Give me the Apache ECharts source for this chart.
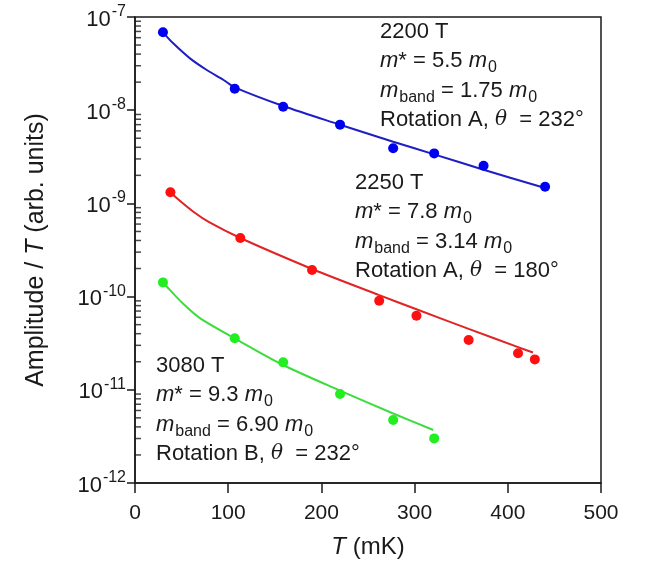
<!DOCTYPE html>
<html>
<head>
<meta charset="utf-8">
<script src="https://cdn.jsdelivr.net/npm/echarts@6/dist/echarts.min.js"></script>
<style>
  html, body { margin: 0; padding: 0; background: #fff; }
  #chart { width: 648px; height: 569px; }
</style>
</head>
<body>
<div id="chart"></div>
<script>
// measured points (T in mK, amplitude / T in arb. units)
var blueT = [30, 107, 159, 220, 277, 321, 374, 440]
var blueAmp = [6.85e-8, 1.70e-8, 1.09e-8, 7.0e-9, 3.9e-9, 3.44e-9, 2.54e-9, 1.51e-9]
var redT = [38, 113, 190, 262, 302, 358, 411, 429]
var redAmp = [1.32e-9, 4.26e-10, 1.93e-10, 9.04e-11, 6.24e-11, 3.42e-11, 2.47e-11, 2.12e-11]
var greenT = [30, 107, 159, 220, 277, 321]
var greenAmp = [1.42e-10, 3.57e-11, 1.97e-11, 9.0e-12, 4.74e-12, 3.01e-12]

// fitted curves
var blueFitT = [30, 41, 59, 77, 95, 107, 159, 220, 277, 321, 374, 440]
var blueFit = [6.85e-8, 5.22e-8, 3.6e-8, 2.7e-8, 2.11e-8, 1.76e-8, 1.11e-8, 6.99e-9, 4.59e-9, 3.36e-9, 2.30e-9, 1.46e-9]
var redFitT = [38, 45, 63, 80, 113, 190, 262, 302, 358, 411, 427]
var redFit = [1.326e-9, 1.134e-9, 8.08e-10, 6.24e-10, 4.25e-10, 1.98e-10, 1.038e-10, 7.31e-11, 4.5e-11, 2.87e-11, 2.51e-11]
var greenFitT = [30, 34, 52, 70, 107, 159, 220, 277, 320]
var greenFit = [1.417e-10, 1.283e-10, 8.33e-11, 5.85e-11, 3.57e-11, 1.845e-11, 9.8e-12, 5.57e-12, 3.7e-12]

// axis decoration
var xTicks = [0, 100, 200, 300, 400, 500]
var yDecades = [-12, -11, -10, -9, -8, -7]
var minorMantissa = [2, 3, 4, 5, 6, 7, 8, 9]

var FONT = 'Liberation Sans, Arial, sans-serif'
var INK = '#1a1a1a'

function pairs (xs, ys) {
  return xs.map(function (x, i) { return [x, ys[i]] })
}

var minorTicks = []
yDecades.slice(0, -1).forEach(function (d) {
  minorMantissa.forEach(function (m) { minorTicks.push([xTicks[0], m * Math.pow(10, d)]) })
})

var chart = echarts.init(document.getElementById('chart'))

var txt = {
  fontFamily: FONT,
  fontSize: 22,
  fill: INK,
  lineHeight: 29.5,
  rich: {
    i: { fontFamily: FONT, fontSize: 22, fontStyle: 'italic', lineHeight: 29.5 },
    s: { fontFamily: FONT, fontSize: 16, lineHeight: 16, verticalAlign: 'bottom', padding: [0, 0, 0, 1] },
    th: { fontFamily: 'DejaVu Serif, serif', fontSize: 20, fontStyle: 'italic', lineHeight: 29.5 }
  }
}

function block (x, y, lines) {
  return {
    type: 'text',
    left: x,
    top: y,
    silent: true,
    style: Object.assign({}, txt, { text: lines.join('\n') })
  }
}

var groups = [
  { c: '#0000f0', lc: '#1e1ec4', t: blueT, a: blueAmp, ft: blueFitT, f: blueFit },
  { c: '#ff1010', lc: '#e02424', t: redT, a: redAmp, ft: redFitT, f: redFit },
  { c: '#22ee22', lc: '#3ddc3d', t: greenT, a: greenAmp, ft: greenFitT, f: greenFit }
]

// log minor ticks on the left axis, pointing into the plot (first series)
var chartSeries = [{
  type: 'scatter',
  data: minorTicks,
  symbol: 'rect',
  symbolSize: [6, 1.5],
  symbolOffset: [3, 0],
  itemStyle: { color: INK },
  clip: false
}]

groups.forEach(function (s) {
  chartSeries.push({
    type: 'line',
    data: pairs(s.ft, s.f),
    smooth: 0.3,
    showSymbol: false,
    lineStyle: { color: s.lc, width: 2 },
    silent: true,
    z: 2
  })
  chartSeries.push({
    type: 'scatter',
    data: pairs(s.t, s.a),
    symbolSize: 10,
    itemStyle: { color: s.c, opacity: 1 },
    z: 3
  })
})

chart.setOption({
  animation: false,
  backgroundColor: '#fff',
  grid: {
    left: 135,
    right: 47,
    top: 17,
    bottom: 86,
    show: true,
    borderColor: INK,
    borderWidth: 1.5
  },
  xAxis: {
    type: 'value',
    min: xTicks[0],
    max: xTicks[xTicks.length - 1],
    interval: 100,
    name: '{i|T} (mK)',
    nameLocation: 'middle',
    nameGap: 52,
    nameTextStyle: {
      fontFamily: FONT,
      fontSize: 24,
      color: INK,
      rich: { i: { fontFamily: FONT, fontSize: 24, fontStyle: 'italic', color: INK } }
    },
    axisLine: { lineStyle: { color: INK, width: 1.5 } },
    axisTick: { length: 10, lineStyle: { color: INK, width: 1.5 } },
    axisLabel: { fontFamily: FONT, fontSize: 21, color: INK, margin: 20 },
    splitLine: { show: false }
  },
  yAxis: {
    type: 'log',
    logBase: 10,
    min: Math.pow(10, yDecades[0]),
    max: Math.pow(10, yDecades[yDecades.length - 1]),
    name: 'Amplitude / {i|T} (arb. units)',
    nameLocation: 'middle',
    nameRotate: 90,
    nameGap: 86,
    nameTextStyle: {
      fontFamily: FONT,
      fontSize: 25,
      color: INK,
      rich: { i: { fontFamily: FONT, fontSize: 25, fontStyle: 'italic', color: INK } }
    },
    axisLine: { lineStyle: { color: INK, width: 1.5 } },
    axisTick: { length: 8, lineStyle: { color: INK, width: 1.5 } },
    axisLabel: {
      fontFamily: FONT,
      fontSize: 22,
      color: INK,
      margin: 9,
      formatter: function (v) {
        return '{b|10}{p|' + Math.round(Math.log10(v)) + '}'
      },
      rich: {
        b: { fontFamily: FONT, fontSize: 22, color: INK, lineHeight: 27, verticalAlign: 'bottom' },
        p: { fontFamily: FONT, fontSize: 16, color: INK, lineHeight: 16, verticalAlign: 'top', padding: [0, 0, 0, 1] }
      }
    },
    splitLine: { show: false }
  },
  series: chartSeries,
  graphic: [
    block(380, 17, ['2200 T', '{i|m}* = 5.5 {i|m}{s|0}', '{i|m}{s|band} = 1.75 {i|m}{s|0}', 'Rotation A, {th|θ}  = 232°']),
    block(355, 168, ['2250 T', '{i|m}* = 7.8 {i|m}{s|0}', '{i|m}{s|band} = 3.14 {i|m}{s|0}', 'Rotation A, {th|θ}  = 180°']),
    block(156, 351, ['3080 T', '{i|m}* = 9.3 {i|m}{s|0}', '{i|m}{s|band} = 6.90 {i|m}{s|0}', 'Rotation B, {th|θ}  = 232°'])
  ]
})
</script>
</body>
</html>
